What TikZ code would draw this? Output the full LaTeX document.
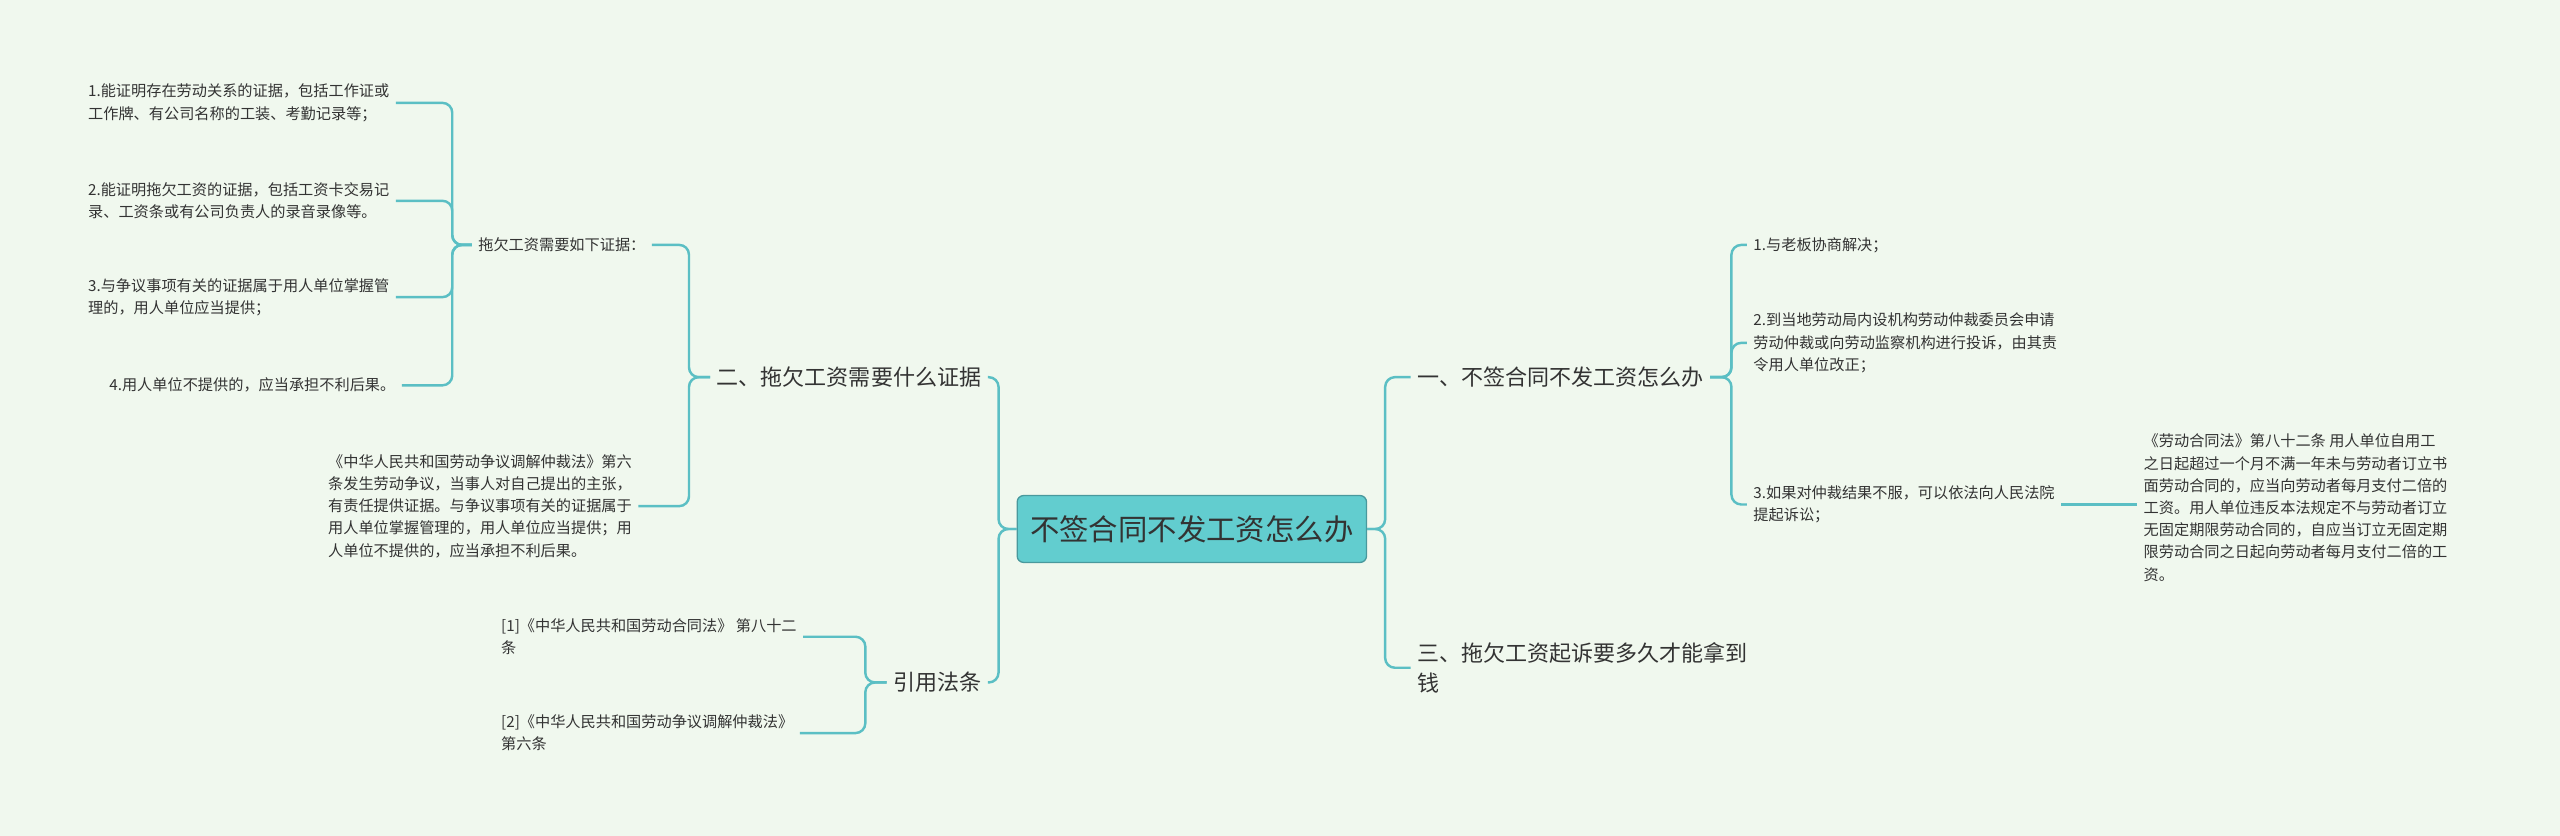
\documentclass[tikz,border=0pt]{standalone}
\usepackage{fontspec}
\setmainfont{Noto Sans CJK SC}
\definecolor{bg}{HTML}{F0F8EE}
\definecolor{ln}{HTML}{5BBFC4}
\definecolor{rootf}{HTML}{62CDCF}
\definecolor{txt}{HTML}{333333}
\begin{document}
\begin{tikzpicture}[x=1pt,y=-1pt,
  sm/.style={font=\fontsize{9.3}{13.6}\selectfont, align=left, inner sep=0pt, outer sep=4pt, text=txt, anchor=west},
  hd/.style={font=\fontsize{13.5}{18}\selectfont, align=left, inner sep=0pt, outer sep=4pt, text=txt, anchor=west},
  conn/.style={draw=ln, line width=1.5pt, rounded corners=6pt}]
\fill[bg] (0,0) rectangle (1568,512);
\useasboundingbox (0,0) rectangle (1568,512);
\node[draw=ln!80!black, line width=0.8pt, fill=rootf, rounded corners=4pt, minimum width=214pt, minimum height=41pt, text=txt, font=\fontsize{18}{22}\selectfont] (root) at (730,324) {不签合同不发工资怎么办};
% left
\node[hd] (L1) at (435,231) {二、拖欠工资需要什么证据};
\node[sm] (L2) at (289,150) {拖欠工资需要如下证据：};
\node[sm] (i1) at (50,63) {1.能证明存在劳动关系的证据，包括工作证或\\工作牌、有公司名称的工装、考勤记录等；};
\node[sm] (i2) at (50,123) {2.能证明拖欠工资的证据，包括工资卡交易记\\录、工资条或有公司负责人的录音录像等。};
\node[sm] (i3) at (50,182) {3.与争议事项有关的证据属于用人单位掌握管\\理的，用人单位应当提供；};
\node[sm] (i4) at (63,236) {4.用人单位不提供的，应当承担不利后果。};
\node[sm] (law1) at (197,310) {《中华人民共和国劳动争议调解仲裁法》第六\\条发生劳动争议，当事人对自己提出的主张，\\有责任提供证据。与争议事项有关的证据属于\\用人单位掌握管理的，用人单位应当提供；用\\人单位不提供的，应当承担不利后果。};
\node[hd] (L3) at (543,418) {引用法条};
\node[sm] (c1) at (303,390) {[1]《中华人民共和国劳动合同法》 第八十二\\条};
\node[sm] (c2) at (303,449) {[2]《中华人民共和国劳动争议调解仲裁法》\\第六条};
% right
\node[hd] (R1) at (864,231) {一、不签合同不发工资怎么办};
\node[hd, font=\fontsize{13.5}{18.5}\selectfont] (R3) at (864,409) {三、拖欠工资起诉要多久才能拿到\\钱};
\node[sm] (r1) at (1070,150) {1.与老板协商解决；};
\node[sm] (r2) at (1070,210) {2.到当地劳动局内设机构劳动仲裁委员会申请\\劳动仲裁或向劳动监察机构进行投诉，由其责\\令用人单位改正；};
\node[sm] (r3) at (1070,309) {3.如果对仲裁结果不服，可以依法向人民法院\\提起诉讼；};
\node[sm] (rlaw) at (1309,311) {《劳动合同法》第八十二条 用人单位自用工\\之日起超过一个月不满一年未与劳动者订立书\\面劳动合同的，应当向劳动者每月支付二倍的\\工资。用人单位违反本法规定不与劳动者订立\\无固定期限劳动合同的，自应当订立无固定期\\限劳动合同之日起向劳动者每月支付二倍的工\\资。};
% connectors
\foreach \c in {L1,L3} \draw[conn] (root.west) -- ++(-11,0) |- (\c.east);
\foreach \c in {L2,law1} \draw[conn] (L1.west) -- ++(-13,0) |- (\c.east);
\foreach \c in {i1,i2,i3,i4} \draw[conn] (L2.west) -- ++(-12,0) |- (\c.east);
\foreach \c in {c1,c2} \draw[conn] (L3.west) -- ++(-13,0) |- (\c.east);
\foreach \c in {R1,R3} \draw[conn] (root.east) -- ++(11,0) |- (\c.west);
\foreach \c in {r1,r2,r3} \draw[conn] (R1.east) -- ++(13,0) |- (\c.west);
\draw[conn] (r3.east) -- (rlaw.west |- r3.east);
\end{tikzpicture}
\end{document}
